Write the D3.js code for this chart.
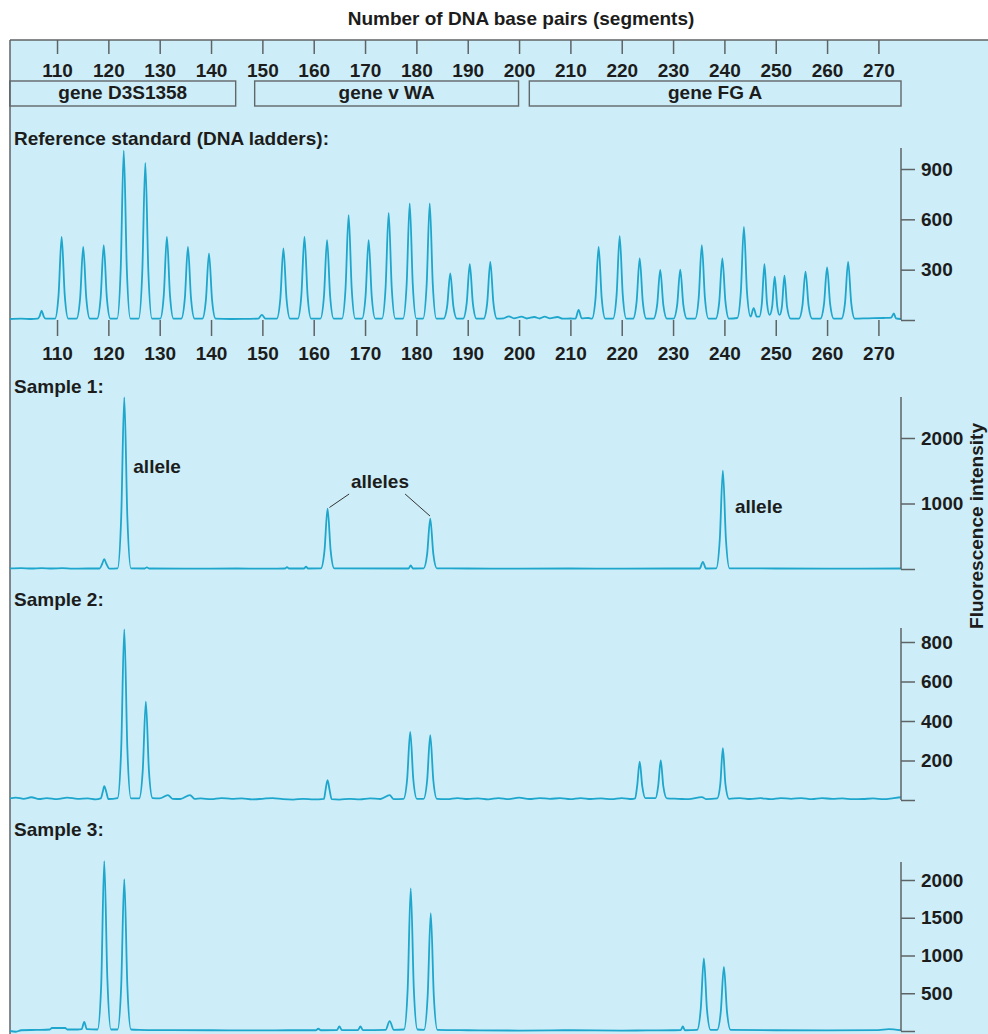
<!DOCTYPE html>
<html>
<head>
<meta charset="utf-8">
<script src="https://cdn.jsdelivr.net/npm/d3@7"></script>
<style>
  body { margin: 0; background: #fff; }
  svg text { font-family: "Liberation Sans", Arial, sans-serif; font-weight: bold; font-size: 19px; fill: #1c1c1c; }
  .axis path { display: none; }
  .axis line, .frame { stroke: #5e6366; stroke-width: 1.5; }
</style>
</head>
<body>
<svg id="chart" width="988" height="1034"></svg>
<script>
// base pair ticks
const bpTicks = [110, 120, 130, 140, 150, 160, 170, 180, 190, 200, 210, 220, 230, 240, 250, 260, 270];

// gene regions (bp)
const geneNames = ['gene D3S1358', 'gene v WA', 'gene FG A'];
const geneStart = [100.8, 148.5, 202];
const geneEnd = [144.8, 199.9, 274.4];

// panels
const panelLabels = ['Reference standard (DNA ladders):', 'Sample 1:', 'Sample 2:', 'Sample 3:'];
const refTicks = [0, 300, 600, 900];
const s1Ticks = [0, 1000, 2000];
const s2Ticks = [0, 200, 400, 600, 800];
const s3Ticks = [0, 500, 1000, 1500, 2000];

// traces [bp, fluorescence]
const refTrace = [
  [100.8,6],[103,8],[105,6],
  [106.2,8],[106.6,22],[107,55],[107.4,22],[107.8,8],
  [109.6,8],[110.3,150],[110.9,495],[111.5,150],[112.2,8],
  [113.8,8],[114.5,130],[115.1,435],[115.7,130],[116.4,8],
  [117.8,8],[118.5,135],[119.1,446],[119.7,135],[120.4,8],
  [121.7,8],[122.4,300],[123,1010],[123.6,300],[124.3,8],
  [125.9,8],[126.6,280],[127.2,936],[127.8,280],[128.5,8],
  [130.1,8],[130.8,150],[131.4,495],[132,150],[132.7,8],
  [134.2,8],[134.9,130],[135.5,435],[136.1,130],[136.8,8],
  [138.3,8],[139,120],[139.6,397],[140.2,120],[140.9,8],
  [144,6],[147,7],
  [149.2,8],[149.9,30],[150.6,8],
  [152.8,8],[153.5,128],[154.1,427],[154.7,128],[155.4,8],
  [156.9,8],[157.6,150],[158.2,495],[158.8,150],[159.5,8],
  [161.3,8],[162,143],[162.6,476],[163.2,143],[163.9,8],
  [165.5,8],[166.2,188],[166.8,625],[167.4,188],[168.1,8],
  [169.4,8],[170.1,143],[170.7,476],[171.3,143],[172,8],
  [173.3,8],[174,192],[174.6,639],[175.2,192],[175.9,8],
  [177.4,8],[178.1,210],[178.7,695],[179.3,210],[180,8],
  [181.3,8],[182,210],[182.6,695],[183.2,210],[183.9,8],
  [185.3,8],[186,83],[186.6,278],[187.2,83],[187.9,8],
  [189.1,8],[189.8,100],[190.4,333],[191,100],[191.7,8],
  [193.1,8],[193.8,104],[194.4,347],[195,104],[195.7,8],
  [197,10],[198,22],[199,10],[200.5,20],[201.5,9],[203,18],[204,9],[205,20],[206,10],[207.5,18],[208.5,8],[210,9],
  [211,8],[211.6,60],[212.2,10],[213.5,12],
  [214.2,8],[214.9,130],[215.5,435],[216.1,130],[216.8,8],
  [218.3,8],[219,150],[219.6,500],[220.2,150],[220.9,8],
  [222.2,8],[222.9,110],[223.5,367],[224.1,110],[224.8,8],
  [226.2,8],[226.9,90],[227.5,298],[228.1,90],[228.8,8],
  [230.1,8],[230.8,90],[231.4,300],[232,90],[232.7,8],
  [234.3,8],[235,134],[235.6,446],[236.2,134],[236.9,8],
  [238.3,8],[239,110],[239.6,367],[240.2,110],[240.9,8],
  [242.5,12],[243.2,167],[243.8,555],[244.4,167],[245.1,20],
  [245.7,70],[246.3,20],
  [246.8,20],[247.3,100],[247.8,333],[248.3,100],[248.8,30],
  [249.3,80],[249.8,258],[250.3,80],[250.75,30],
  [251.2,80],[251.7,265],[252.2,80],[252.9,8],
  [254.5,8],[255.2,86],[255.8,288],[256.4,86],[257.1,8],
  [258.7,8],[259.4,94],[260,313],[260.6,94],[261.3,8],
  [262.8,8],[263.5,104],[264.1,347],[264.7,104],[265.4,8],
  [268,10],[271,12],[272.5,14],[273,40],[273.4,10],[274.4,6]
];

const s1Trace = [
  [100.8,10],[103,14],[105,8],[107,14],[109,8],[111,12],[113,6],[116,8],
  [118.3,8],[118.8,80],[119.2,150],[119.6,80],[120.2,5],
  [121.8,10],[122.5,790],[123.1,2620],[123.7,790],[124.4,10],
  [127.1,8],[127.5,25],[127.9,8],
  [135,6],[145,8],[150,6],[154.4,8],[154.8,30],[155.2,8],[158.1,8],[158.5,35],[158.9,8],
  [161.4,10],[162.1,280],[162.7,920],[163.3,280],[164,10],
  [178.5,8],[178.9,55],[179.3,8],
  [181.4,10],[182.1,230],[182.7,770],[183.3,230],[184,10],
  [190,8],[200,6],[210,8],[220,6],[230,8],
  [235.2,8],[235.8,110],[236.4,8],
  [238.4,10],[239.1,450],[239.7,1500],[240.3,450],[241,10],
  [250,8],[260,6],[274.4,8]
];

const s2Trace = [
  [100.8,8],[102,12],[103.5,6],[105,14],[106.5,5],[108,10],[110,4],[112,12],[114,6],[116,8],[117.5,3],
  [118.5,8],[118.9,40],[119.2,70],[119.6,40],[120,5],
  [121.8,10],[122.5,260],[123.1,864],[123.7,260],[124.4,8],
  [126,8],[126.7,150],[127.3,498],[127.9,150],[128.6,10],
  [130,8],[131.6,25],[132.5,6],[134,5],[135.9,25],[136.8,6],[138,8],[140,4],[142,10],[144,6],[146,8],[148,3],[150,6],[152,10],[154,4],[156,2],[158,6],[160,3],
  [162,6],[162.3,50],[162.7,100],[163.1,50],[163.5,4],
  [165,2],[167,6],[169,3],[171,8],[173,5],[174.8,25],[175.6,4],
  [177.5,6],[178.2,105],[178.8,345],[179.4,105],[180.1,6],
  [181.4,6],[182.1,100],[182.7,328],[183.3,100],[184,6],
  [186,4],[188,10],[190,5],[192,8],[194,3],[196,10],[198,4],[200,12],[202,5],[204,10],[206,6],[208,9],[210,4],[212,10],[214,5],[216,8],[218,4],[220,10],[222,5],
  [222.6,8],[223,70],[223.5,194],[224,70],[224.6,10],
  [226.6,10],[227.1,70],[227.6,200],[228.1,70],[228.8,8],
  [231,6],[233,4],[235.6,15],[236.5,4],
  [238.6,8],[239.2,80],[239.7,262],[240.2,80],[240.9,6],
  [243,10],[245,5],[247,9],[249,4],[251,10],[253,6],[255,10],[257,4],[259,9],[261,6],[263,8],[265,4],[267,5],[269,8],[271,4],[273,10],[274.4,14]
];

const s3Trace = [
  [100.8,0],[102,-10],[103,10],[106,15],[108.6,20],[109,40],[111.6,40],[112,20],[114,20],
  [114.8,25],[115.3,120],[115.8,25],
  [117.9,20],[118.6,600],[119.2,2250],[119.8,700],[120.5,20],
  [121.8,20],[122.5,600],[123.1,2010],[123.7,600],[124.4,20],
  [126,15],[130,12],[140,10],[150,8],[155,10],[160.4,10],[160.9,30],[161.4,10],
  [164.5,12],[165,60],[165.5,12],[168.6,12],[169.1,60],[169.6,12],
  [174,15],[174.8,130],[175.6,15],
  [177.6,20],[178.3,550],[178.9,1890],[179.5,560],[180.2,20],
  [181.5,15],[182.2,470],[182.8,1560],[183.4,460],[184.1,15],
  [190,10],[200,6],[210,10],[220,5],[225,8],[230,10],
  [231.5,12],[231.9,60],[232.3,10],
  [234.7,15],[235.4,300],[236,960],[236.6,290],[237.3,15],
  [238.6,15],[239.3,260],[239.9,850],[240.5,260],[241.2,15],
  [250,10],[260,8],[270,12],[272,25],[274.4,10]
];

const svg = d3.select('#chart');
const bg = '#cdeef8';
const lineColor = '#1ea6cc';

// background panel
svg.append('rect').attr('x', 10).attr('y', 40).attr('width', 978).attr('height', 994).attr('fill', bg);
svg.append('line').attr('class', 'frame').attr('x1', 10).attr('x2', 988).attr('y1', 40).attr('y2', 40);
svg.append('line').attr('class', 'frame').attr('x1', 10).attr('x2', 10).attr('y1', 40).attr('y2', 1034);

// title
svg.append('text').attr('x', 521).attr('y', 25).attr('text-anchor', 'middle')
  .text('Number of DNA base pairs (segments)');

const x = d3.scaleLinear().domain([100.84, 274.4]).range([10, 901]);

// top bp axis
svg.append('g').attr('class', 'axis')
  .attr('transform', 'translate(0,40)')
  .call(d3.axisBottom(x).tickValues(bpTicks).tickSize(14).tickPadding(9.5).tickSizeOuter(0))
  .call(g => g.selectAll('text').attr('fill', null));

// gene boxes
const genes = geneNames.map((n, i) => ({ name: n, start: geneStart[i], end: geneEnd[i] }));
const gb = svg.append('g').selectAll('g').data(genes).enter().append('g');
gb.append('rect')
  .attr('x', d => x(d.start)).attr('y', 81)
  .attr('width', d => x(d.end) - x(d.start)).attr('height', 25)
  .attr('fill', 'none').attr('stroke', '#62676a').attr('stroke-width', 1.4);
gb.append('text')
  .attr('x', d => (x(d.start) + x(d.end)) / 2).attr('y', 99)
  .attr('text-anchor', 'middle').text(d => d.name);

// trace panels
const panels = [
  { label: panelLabels[0], labelY: 145, trace: refTrace, ticks: refTicks, base: 320, topTickY: 169, axisTop: 148 },
  { label: panelLabels[1], labelY: 393, trace: s1Trace, ticks: s1Ticks, base: 569, topTickY: 438, axisTop: 397 },
  { label: panelLabels[2], labelY: 606, trace: s2Trace, ticks: s2Ticks, base: 800, topTickY: 642, axisTop: 628 },
  { label: panelLabels[3], labelY: 836, trace: s3Trace, ticks: s3Ticks, base: 1031, topTickY: 880, axisTop: 862 }
];

svg.append('clipPath').attr('id', 'clip')
  .append('rect').attr('x', 10).attr('y', 40).attr('width', 891).attr('height', 994);

panels.forEach(p => {
  const y = d3.scaleLinear().domain([0, d3.max(p.ticks)]).range([p.base, p.topTickY]);
  p.y = y;

  svg.append('text').attr('x', 14).attr('y', p.labelY).text(p.label);

  const line = d3.line().x(d => x(d[0])).y(d => y(d[1])).curve(d3.curveMonotoneX);
  svg.append('path')
    .datum(p.trace)
    .attr('clip-path', 'url(#clip)')
    .attr('fill', 'none')
    .attr('stroke', lineColor)
    .attr('stroke-width', 1.8)
    .attr('stroke-linejoin', 'round')
    .attr('d', line);

  // right intensity axis
  const ax = svg.append('g').attr('class', 'axis')
    .attr('transform', 'translate(901,0)')
    .call(d3.axisRight(y).tickValues(p.ticks).tickSize(14).tickPadding(6)
      .tickFormat(d => d === 0 ? '' : d))
    .call(g => g.selectAll('text').attr('fill', null));
  ax.append('line').attr('x1', 0).attr('x2', 0).attr('y1', p.base).attr('y2', p.axisTop);
});

// bp axis below the reference ladder
svg.append('g').attr('class', 'axis')
  .attr('transform', 'translate(0,320)')
  .call(d3.axisBottom(x).tickValues(bpTicks).tickSize(16).tickPadding(10.5).tickSizeOuter(0))
  .call(g => g.selectAll('text').attr('fill', null));

// allele annotations in sample 1
const y1 = panels[1].y;
svg.append('text').attr('x', x(124.86)).attr('y', y1(1470)).text('allele');
svg.append('text').attr('x', x(172.9)).attr('y', y1(1237)).attr('text-anchor', 'middle').text('alleles');
svg.append('text').attr('x', x(242.06)).attr('y', y1(860)).text('allele');
[[166.9, 1145, 163.07, 939], [177.8, 1145, 182.65, 809]].forEach(l => {
  svg.append('line')
    .attr('x1', x(l[0])).attr('y1', y1(l[1]))
    .attr('x2', x(l[2])).attr('y2', y1(l[3]))
    .attr('stroke', '#333').attr('stroke-width', 1);
});

// y axis title
svg.append('text')
  .attr('transform', 'translate(983,526) rotate(-90)')
  .attr('text-anchor', 'middle')
  .text('Fluorescence intensity');
</script>
</body>
</html>
